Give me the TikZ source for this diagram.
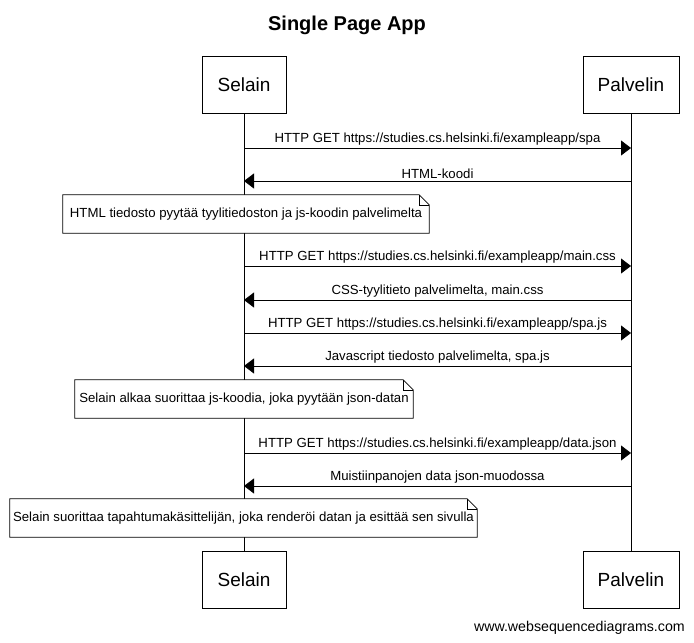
\documentclass[tikz,border=0pt]{standalone}
\usepackage{fontspec}
\setmainfont{Liberation Sans}
\usetikzlibrary{arrows.meta}
\begin{document}
\begin{tikzpicture}[x=1pt,y=-1pt,
  actor/.style={draw,line width=0.8pt,fill=white,minimum width=84pt,minimum height=57pt,inner sep=0pt,font=\fontsize{19}{22}\selectfont},
  msg/.style={line width=0.8pt,-{Triangle[length=10pt,width=15pt]}},
  msglabel/.style={midway,above,inner sep=2pt,font=\fontsize{13.2}{15}\selectfont},
  notebox/.style={minimum height=38pt,inner sep=0pt,font=\fontsize{13.2}{15}\selectfont},
  noteline/.style={line width=0.8pt,fill=white},
  lifeline/.style={line width=0.8pt}]
\useasboundingbox (0,0) rectangle (694,643);
\fill[white] (0,0) rectangle (694,643);

% title
\node (title) at (347,25) {\fontsize{20}{24}\selectfont\bfseries Single Page App};

% participants, top and bottom
\node[actor] (selT) at (244,84.5) {Selain};
\node[actor,minimum width=96pt] (palT) at (631,84.5) {Palvelin};
\node[actor] (selB) at (244,580) {Selain};
\node[actor,minimum width=96pt] (palB) at (631,580) {Palvelin};

% lifelines
\draw[lifeline] (selT.south) -- (selB.north);
\draw[lifeline] (palT.south) -- (palB.north);

% message end points on the lifelines
\foreach \i/\y in {1/148,2/181,3/266,4/300,5/333,6/366,7/453,8/486}{
  \coordinate (s\i) at (244,\y);
  \coordinate (p\i) at (631,\y);
}

\draw[msg] (s1) -- (p1) node[msglabel] (l1) {HTTP GET https://studies.cs.helsinki.fi/exampleapp/spa};
\draw[msg] (p2) -- (s2) node[msglabel] (l2) {HTML-koodi};

% note outline with a folded top-right corner
\newcommand{\notefold}[1]{%
  \draw[noteline] (#1.south west) -- (#1.north west) -- ([xshift=-10pt]#1.north east)
    -- ([yshift=-10pt]#1.north east) -- (#1.south east) -- cycle;
  \draw[line width=0.6pt] ([xshift=-10pt]#1.north east) -- ([xshift=-10pt,yshift=-10pt]#1.north east)
    -- ([yshift=-10pt]#1.north east);
}

\node[notebox,minimum width=366pt] (n1) at (246,214) {};
\notefold{n1}
\node[notebox,minimum width=366pt] at (n1) {HTML tiedosto pyytää tyylitiedoston ja js-koodin palvelimelta};

\draw[msg] (s3) -- (p3) node[msglabel] (l3) {HTTP GET https://studies.cs.helsinki.fi/exampleapp/main.css};
\draw[msg] (p4) -- (s4) node[msglabel] (l4) {CSS-tyylitieto palvelimelta, main.css};
\draw[msg] (s5) -- (p5) node[msglabel] (l5) {HTTP GET https://studies.cs.helsinki.fi/exampleapp/spa.js};
\draw[msg] (p6) -- (s6) node[msglabel] (l6) {Javascript tiedosto palvelimelta, spa.js};

\node[notebox,minimum width=338pt] (n2) at (244,399) {};
\notefold{n2}
\node[notebox,minimum width=338pt] at (n2) {Selain alkaa suorittaa js-koodia, joka pyytään json-datan};

\draw[msg] (s7) -- (p7) node[msglabel] (l7) {HTTP GET https://studies.cs.helsinki.fi/exampleapp/data.json};
\draw[msg] (p8) -- (s8) node[msglabel] (l8) {Muistiinpanojen data json-muodossa};

\node[notebox,minimum width=467pt] (n3) at (243.5,518) {};
\notefold{n3}
\node[notebox,minimum width=467pt] at (n3) {Selain suorittaa tapahtumakäsittelijän, joka renderöi datan ja esittää sen sivulla};

% footer
\node[anchor=east,inner sep=0pt,font=\fontsize{14.2}{16}\selectfont] (foot) at (685,628) {www.websequencediagrams.com};
\end{tikzpicture}
\end{document}
